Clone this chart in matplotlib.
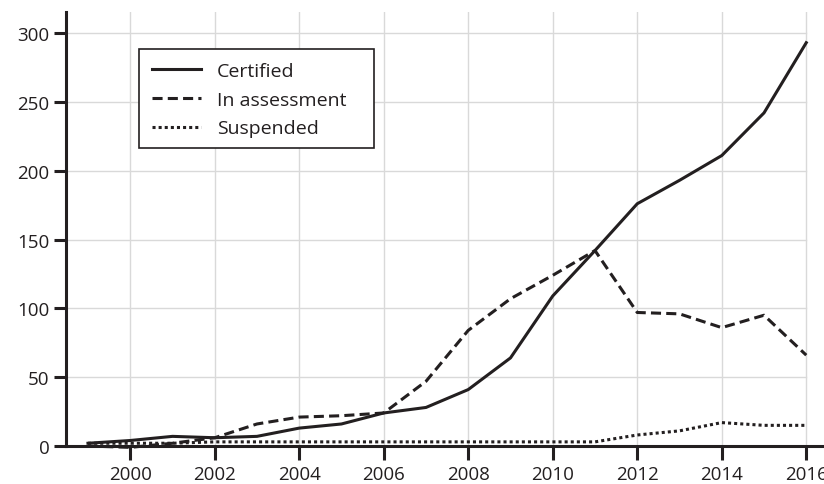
import matplotlib
matplotlib.use("Agg")
import matplotlib.pyplot as plt
from matplotlib.patches import Rectangle

years = list(range(1999, 2017))
certified = [2, 4, 7, 6, 7, 13, 16, 24, 28, 41, 64, 109, 142, 176, 193, 211, 242, 293]
in_assessment = [0, -1, 2, 6, 16, 21, 22, 24, 47, 84, 107, 124, 142, 97, 96, 86, 95, 66]
suspended = [2, 2, 2, 3, 3, 3, 3, 3, 3, 3, 3, 3, 3, 8, 11, 17, 15, 15]

xticks = [2000, 2002, 2004, 2006, 2008, 2010, 2012, 2014, 2016]
yticks = [0, 50, 100, 150, 200, 250, 300]

plt.rcParams['font.family'] = ['Open Sans', 'DejaVu Sans']
ink = '#231f20'
W, H = 824, 485

fig = plt.figure(figsize=(W/100, H/100), dpi=100)
ax = fig.add_axes([66/W, 1-447/H, 1-66/W, (447-13)/H])

lw = 2.2
ax.plot(years, certified, color=ink, lw=lw, ls='-', label='Certified', clip_on=False)
ax.plot(years, in_assessment, color=ink, lw=lw, ls=(0, (3.3, 1.7)), label='In assessment', clip_on=False)
ax.plot(years, suspended, color=ink, lw=lw, ls=(0, (1, 1)), label='Suspended', clip_on=False)

ax.set_xlim(1998.48, 2016.42)
ax.set_ylim(0, 315.3)
ax.set_xticks(xticks)
ax.set_yticks(yticks)

for x in xticks:
    ax.plot([x, x], [0, 315.3], color='#d9d9d9', lw=1, zorder=0)
for y in yticks[1:]:
    ax.plot([1998.48, 2016], [y, y], color='#d9d9d9', lw=1, zorder=0)

for s in ['top', 'right']:
    ax.spines[s].set_visible(False)
for s in ['left', 'bottom']:
    ax.spines[s].set_linewidth(2.2)
    ax.spines[s].set_color(ink)

ax.tick_params(axis='x', direction='out', length=10, width=2.2, color=ink, labelsize=13.5, pad=4, labelcolor=ink)
ax.tick_params(axis='y', direction='out', length=9, width=2.2, color=ink, labelsize=13.5, pad=3, labelcolor=ink)

# legend box frame
fig.patches.append(Rectangle((139/W, 1-149/H), (374-139)/W, (149-50)/H,
                             transform=fig.transFigure, facecolor='white',
                             edgecolor=ink, lw=1.2, zorder=5))

leg = fig.legend(loc='upper left', bbox_to_anchor=(152/W, 1-63/H),
                 fontsize=14, frameon=False, handlelength=2.5,
                 handletextpad=0.85, borderpad=0, labelspacing=0.55, borderaxespad=0)
leg.set_zorder(6)
for t in leg.get_texts():
    t.set_color(ink)

fig.savefig('out.png', dpi=100)
